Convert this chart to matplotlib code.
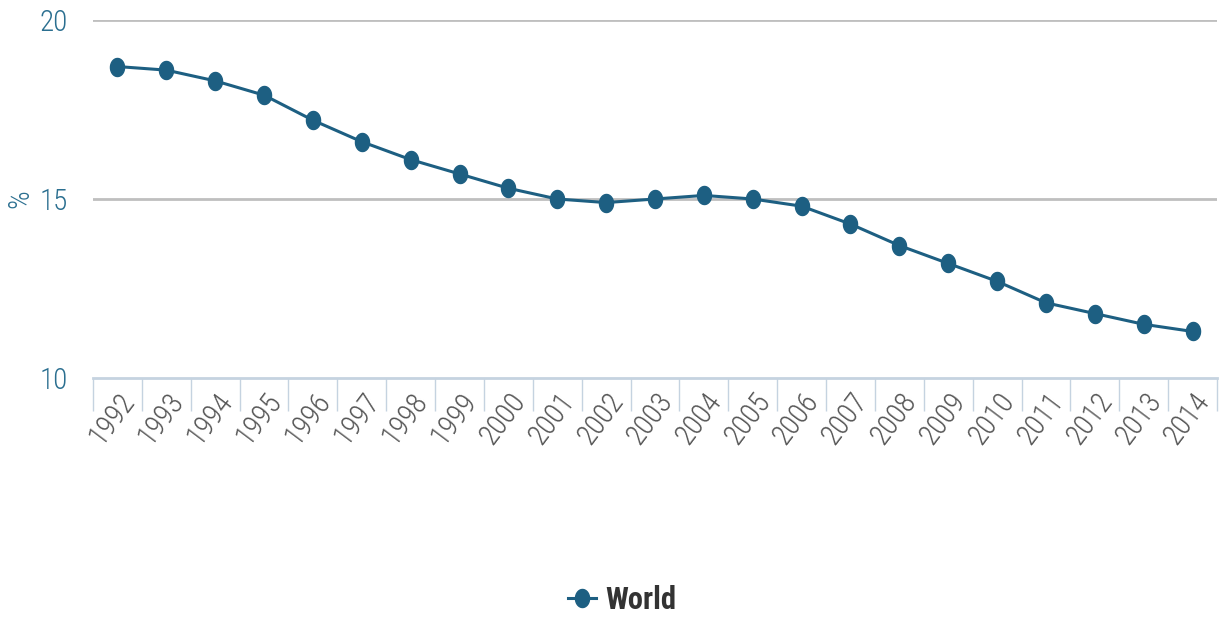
import matplotlib
matplotlib.use("Agg")
import matplotlib.pyplot as plt
import matplotlib.transforms as mtransforms
from matplotlib.path import Path
from matplotlib import font_manager
import numpy as np

years = ["1992", "1993", "1994", "1995", "1996", "1997", "1998", "1999", "2000", "2001",
         "2002", "2003", "2004", "2005", "2006", "2007", "2008", "2009", "2010", "2011",
         "2012", "2013", "2014"]
world = [18.7, 18.6, 18.3, 17.9, 17.2, 16.6, 16.1, 15.7, 15.3, 15.0,
         14.9, 15.0, 15.1, 15.0, 14.8, 14.3, 13.7, 13.2, 12.7, 12.1,
         11.8, 11.5, 11.3]
y_ticks = [10, 15, 20]
series_name = "World"

installed = {f.name for f in font_manager.fontManager.ttflist}
FONT = [f for f in ['Roboto Condensed', 'Open Sans Condensed', 'Roboto', 'DejaVu Sans']
        if f in installed]
plt.rcParams['font.family'] = FONT

line_color = "#1d5f82"
label_blue = "#2b6f90"

t = np.linspace(0, 2 * np.pi, 40)
ell = Path(np.column_stack([0.78 * np.cos(t), np.sin(t)]), closed=True)

fig = plt.figure(figsize=(12.22, 6.17), dpi=100)
W, H = 1222, 617
ax = fig.add_axes([93 / W, 1 - 378 / H, (1217 - 93) / W, (378 - 20) / H])

x = np.arange(len(years))
ax.plot(x, world, color=line_color, lw=2.2, marker=ell, markersize=13,
        markerfacecolor=line_color, markeredgecolor=line_color, zorder=3,
        label=series_name)

ax.set_xlim(-0.5, len(years) - 0.5)
ax.set_ylim(10, 20)

for yv in y_ticks[1:]:
    ax.axhline(yv, color="#bfbfbf", lw=2, zorder=1)

for s in ["top", "right", "left"]:
    ax.spines[s].set_visible(False)
ax.spines["bottom"].set_color("#c5d3e0")
ax.spines["bottom"].set_linewidth(2)

ax.set_yticks(y_ticks)
ax.set_yticklabels([str(v) for v in y_ticks], color=label_blue, fontsize=21,
                   fontweight="light")
ax.tick_params(axis="y", length=0, pad=18)

ax.set_xticks(np.arange(len(years) + 1) - 0.5, minor=False)
ax.set_xticklabels([])
ax.tick_params(axis="x", which="major", direction="out", length=24, width=1,
               color="#c5d3e0")
ax.set_xticks(x, minor=True)
ax.set_xticklabels(years, minor=True, rotation=53, ha="right", va="center",
                   rotation_mode="anchor", color="#555555", fontsize=21,
                   fontweight="light")
ax.tick_params(axis="x", which="minor", length=0, pad=13)
offset = mtransforms.ScaledTranslation(12 / 100, 0, fig.dpi_scale_trans)
for lab in ax.get_xticklabels(minor=True):
    lab.set_transform(lab.get_transform() + offset)

ax.set_ylabel("%", color=label_blue, fontsize=21, fontweight="light")
ax.yaxis.set_label_coords(-0.052, 0.5)

leg = fig.legend(handles=ax.get_lines()[:1], labels=[series_name], loc="center",
                 bbox_to_anchor=(622 / W, 1 - 600 / H), frameon=False,
                 handlelength=0.9, handletextpad=0.3,
                 prop={"weight": "bold", "size": 22, "family": FONT})
for txt in leg.get_texts():
    txt.set_color("#333333")

fig.savefig("out.png", dpi=100)
